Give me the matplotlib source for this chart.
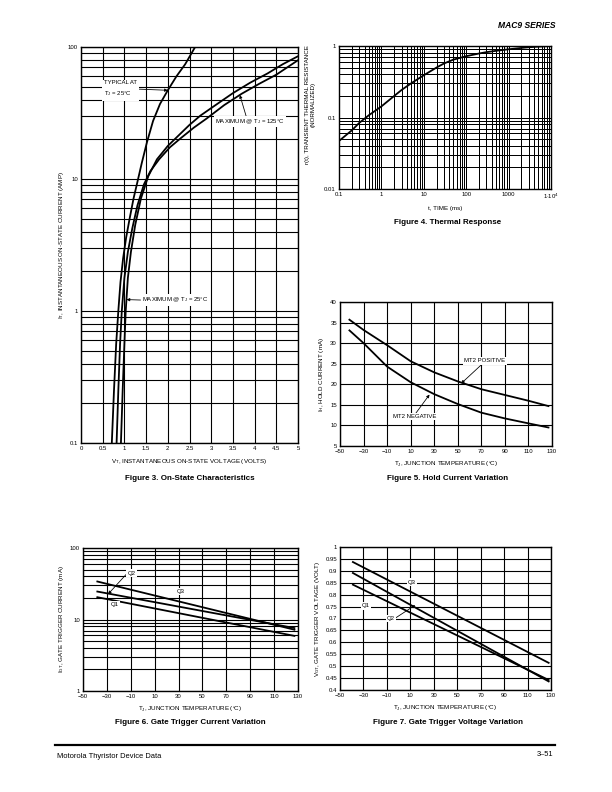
import matplotlib
matplotlib.use('Agg')
import matplotlib.pyplot as plt
import numpy as np
from matplotlib.ticker import FixedLocator, NullFormatter, LogLocator, FixedFormatter

plt.rcParams['font.family'] = ['Liberation Sans', 'DejaVu Sans']
plt.rcParams['mathtext.fontset'] = 'custom'
plt.rcParams['mathtext.rm'] = 'Liberation Sans'
plt.rcParams['mathtext.it'] = 'Liberation Sans'

# ---------------- data ----------------
# Figure 3: on-state characteristics (V in volts, I in amps)
typ25_V = [0.71, 0.76, 0.81, 0.86, 0.91, 0.97, 1.04, 1.12, 1.21, 1.30, 1.40, 1.52, 1.66, 1.82,
           2.00, 2.20, 2.40, 2.63]
typ25_I = [0.1, 0.25, 0.56, 1.0, 1.66, 2.5, 3.6, 5.0, 7.1, 9.5, 13.2, 19.0, 27.5, 37.0,
           47.0, 60.0, 74.0, 100.0]
max25_V = [0.92, 0.96, 1.00, 1.03, 1.08, 1.15, 1.25, 1.38, 1.55, 1.75, 2.00, 2.25, 2.50, 2.75,
           3.10, 3.50, 3.90, 4.30, 4.65, 5.00]
max25_I = [0.1, 0.25, 0.56, 1.0, 1.78, 2.8, 4.5, 7.1, 10.5, 14.1, 17.8, 21.4, 25.7, 30.2,
           36.3, 44.7, 53.7, 63.1, 74.1, 85.1]
max125_V = [0.82, 0.86, 0.90, 0.94, 1.00, 1.08, 1.18, 1.30, 1.45, 1.60, 1.80, 2.05, 2.30, 2.60,
            2.90, 3.30, 3.70, 4.10, 4.50, 5.00]
max125_I = [0.1, 0.25, 0.56, 1.0, 1.78, 2.8, 4.2, 6.3, 9.1, 11.5, 14.1, 17.4, 20.4, 24.5,
            28.8, 36.3, 44.2, 52.5, 61.7, 79.4]
fig3_xticks = ['0', '0.5', '1', '1.5', '2', '2.5', '3', '3.5', '4', '4.5', '5']

# Figure 4: thermal response
therm_t = [0.1, 0.2, 0.3, 0.5, 1, 2, 3, 5, 10, 20, 30, 50, 100, 200, 300, 500, 1000, 2000,
           3000, 5000, 10000]
therm_r = [0.047, 0.066, 0.084, 0.107, 0.143, 0.20, 0.243, 0.30, 0.39, 0.50, 0.57, 0.645,
           0.72, 0.785, 0.82, 0.855, 0.90, 0.94, 0.96, 0.98, 1.0]
fig4_xticks = ['0.1', '1', '10', '100', '1000', r'1$\cdot$10$^\mathregular{4}$']

# Figure 5: hold current
hold_T = [-42, -30, -10, 10, 30, 50, 70, 90, 110, 127]
hold_pos = [35.7, 33.2, 29.5, 25.6, 22.9, 20.7, 18.8, 17.4, 16.0, 14.7]
hold_neg = [33.1, 30.0, 24.3, 20.5, 17.6, 15.2, 13.1, 11.7, 10.5, 9.5]

# Figure 6: gate trigger current (straight lines on log scale)
igt_T = [-38, 127]
igt_q1 = [20.5, 5.9]
igt_q2 = [24.6, 7.6]
igt_q3 = [34.0, 7.2]

# Figure 7: gate trigger voltage
vgt_T = [-39, 128]
vgt_q1 = [0.842, 0.442]
vgt_q2 = [0.891, 0.436]
vgt_q3 = [0.937, 0.514]

temp_ticks = [-50, -30, -10, 10, 30, 50, 70, 90, 110, 130]
temp_labels = ['\u221250', '\u221230', '\u221210', '10', '30', '50', '70', '90', '110', '130']

W, H = 612, 792
fig = plt.figure(figsize=(W / 72, H / 72), dpi=72)

TICK_FS = 6
LAB_FS = 6.3
CAP_FS = 8
ANN_FS = 6
GRID_LW = 1.1
CURVE_LW = 1.8


def make_ax(l, t, r, b):
    ax = fig.add_axes([l / W, 1 - b / H, (r - l) / W, (b - t) / H])
    for s in ax.spines.values():
        s.set_linewidth(1.4)
    ax.tick_params(which='both', length=0, labelsize=TICK_FS, pad=3)
    ax.set_axisbelow(True)
    return ax


def caption(x, y, s):
    fig.text(x / W, 1 - y / H, s, ha='center', va='center', fontsize=CAP_FS, fontweight='bold')


box = dict(boxstyle='square,pad=0.2', fc='white', ec='none')
arr = dict(arrowstyle='-|>', lw=0.8, color='black', shrinkA=0, shrinkB=0, mutation_scale=6)
TJ = r'T$_\mathregular{J}$, JUNCTION TEMPERATURE ($^\mathregular{\circ}$C)'

# ---------------- Figure 3 ----------------
ax3 = make_ax(81, 47, 298, 443)
ax3.set_xlim(0, 5)
ax3.set_yscale('log')
ax3.set_ylim(0.1, 100)
ax3.xaxis.set_major_locator(FixedLocator(np.arange(0, 5.01, 0.5)))
ax3.xaxis.set_major_formatter(FixedFormatter(fig3_xticks))
ax3.yaxis.set_major_locator(FixedLocator([0.1, 1, 10, 100]))
ax3.yaxis.set_major_formatter(FixedFormatter(['0.1', '1', '10', '100']))
ax3.yaxis.set_minor_locator(LogLocator(base=10, subs=range(2, 10)))
ax3.yaxis.set_minor_formatter(NullFormatter())
ax3.grid(True, which='major', color='black', lw=GRID_LW)
ax3.grid(True, which='minor', axis='y', color='black', lw=GRID_LW)
ax3.plot(typ25_V, typ25_I, color='black', lw=CURVE_LW)
ax3.plot(max25_V, max25_I, color='black', lw=CURVE_LW)
ax3.plot(max125_V, max125_I, color='black', lw=CURVE_LW)
ax3.set_xlabel(r'V$_\mathregular{T}$, INSTANTANEOUS ON-STATE VOLTAGE (VOLTS)', fontsize=LAB_FS, labelpad=6)
ax3.set_ylabel(r'I$_\mathregular{T}$, INSTANTANEOUS ON-STATE CURRENT (AMP)', fontsize=LAB_FS, labelpad=2)
ax3.annotate('TYPICAL AT\nT$_\\mathregular{J}$ = 25\u00b0C', xy=(2.0, 47), xytext=(0.53, 48),
             fontsize=ANN_FS, ha='left', va='center', linespacing=1.8,
             bbox=dict(boxstyle='square,pad=0.35', fc='white', ec='none'),
             arrowprops=dict(arr, relpos=(1, 0.5)))
ax3.annotate('MAXIMUM @ T$_\\mathregular{J}$ = 125\u00b0C', xy=(3.66, 43.3), xytext=(3.09, 27.2),
             fontsize=ANN_FS, ha='left', va='center', bbox=box,
             arrowprops=dict(arr, relpos=(0.45, 1)))
ax3.annotate('MAXIMUM @ T$_\\mathregular{J}$ = 25\u00b0C', xy=(1.05, 1.22), xytext=(1.40, 1.21),
             fontsize=ANN_FS, ha='left', va='center', bbox=box,
             arrowprops=dict(arr, relpos=(0, 0.5)))
caption(190, 479, 'Figure 3. On-State Characteristics')

# ---------------- Figure 4 ----------------
ax4 = make_ax(339, 46, 551, 189)
ax4.set_xscale('log')
ax4.set_yscale('log')
ax4.set_xlim(0.1, 1e4)
ax4.set_ylim(0.01, 1)
ax4.xaxis.set_major_locator(FixedLocator([0.1, 1, 10, 100, 1000, 10000]))
ax4.xaxis.set_major_formatter(FixedFormatter(fig4_xticks))
ax4.xaxis.set_minor_locator(LogLocator(base=10, subs=range(2, 10)))
ax4.xaxis.set_minor_formatter(NullFormatter())
ax4.yaxis.set_major_locator(FixedLocator([0.01, 0.1, 1]))
ax4.yaxis.set_major_formatter(FixedFormatter(['0.01', '0.1', '1']))
ax4.yaxis.set_minor_locator(LogLocator(base=10, subs=range(2, 10)))
ax4.yaxis.set_minor_formatter(NullFormatter())
ax4.grid(True, which='both', color='black', lw=1.0)
ax4.plot(therm_t, therm_r, color='black', lw=CURVE_LW)
ax4.set_xlabel('t, TIME (ms)', fontsize=LAB_FS, labelpad=5)
ax4.set_ylabel('r(t), TRANSIENT THERMAL RESISTANCE\n(NORMALIZED)', fontsize=LAB_FS, linespacing=1.4)
ax4.yaxis.set_label_coords(-0.108, 0.59)
caption(448, 222, 'Figure 4. Thermal Response')

# ---------------- Figure 5 ----------------
ax5 = make_ax(340, 302, 552, 446)
ax5.set_xlim(-50, 130)
ax5.set_ylim(5, 40)
ax5.set_xticks(temp_ticks)
ax5.set_xticklabels(temp_labels)
ax5.set_yticks(range(5, 41, 5))
ax5.grid(True, color='black', lw=GRID_LW)
ax5.plot(hold_T, hold_pos, color='black', lw=CURVE_LW)
ax5.plot(hold_T, hold_neg, color='black', lw=CURVE_LW)
ax5.set_xlabel(TJ, fontsize=LAB_FS, labelpad=6)
ax5.set_ylabel(r'I$_\mathregular{H}$, HOLD CURRENT (mA)', fontsize=LAB_FS, labelpad=4)
ax5.annotate('MT2 POSITIVE', xy=(52.9, 20.2), xytext=(73.1, 25.7), fontsize=ANN_FS,
             ha='center', va='center', bbox=box, arrowprops=dict(arr, relpos=(0.45, 0)))
ax5.annotate('MT2 NEGATIVE', xy=(26, 17.5), xytext=(13.7, 12.1), fontsize=ANN_FS,
             ha='center', va='center', bbox=box, arrowprops=dict(arr, relpos=(0.5, 1)))
caption(448, 479, 'Figure 5. Hold Current Variation')

# ---------------- Figure 6 ----------------
ax6 = make_ax(83, 548, 298, 691)
ax6.set_xlim(-50, 130)
ax6.set_yscale('log')
ax6.set_ylim(1, 100)
ax6.set_xticks(temp_ticks)
ax6.set_xticklabels(temp_labels)
ax6.yaxis.set_major_locator(FixedLocator([1, 10, 100]))
ax6.yaxis.set_major_formatter(FixedFormatter(['1', '10', '100']))
ax6.yaxis.set_minor_locator(LogLocator(base=10, subs=range(2, 10)))
ax6.yaxis.set_minor_formatter(NullFormatter())
ax6.grid(True, which='major', color='black', lw=GRID_LW)
ax6.grid(True, which='minor', axis='y', color='black', lw=GRID_LW)
ax6.plot(igt_T, igt_q1, color='black', lw=CURVE_LW)
ax6.plot(igt_T, igt_q2, color='black', lw=CURVE_LW)
ax6.plot(igt_T, igt_q3, color='black', lw=CURVE_LW)
ax6.set_xlabel(TJ, fontsize=LAB_FS, labelpad=6)
ax6.set_ylabel(r'I$_\mathregular{GT}$, GATE TRIGGER CURRENT (mA)', fontsize=LAB_FS, labelpad=4)
ax6.annotate('Q2', xy=(-29, 22.6), xytext=(-9.5, 44.6), fontsize=ANN_FS, ha='center', va='center',
             bbox=box, arrowprops=dict(arr, relpos=(0, 0.5)))
ax6.text(31.8, 24.5, 'Q3', fontsize=ANN_FS, ha='center', va='center', bbox=box)
ax6.text(-23.2, 16.0, 'Q1', fontsize=ANN_FS, ha='center', va='center', bbox=box)
caption(190, 723, 'Figure 6. Gate Trigger Current Variation')

# ---------------- Figure 7 ----------------
ax7 = make_ax(340, 547, 551, 690)
ax7.set_xlim(-50, 130)
ax7.set_ylim(0.4, 1.0)
ax7.set_xticks(temp_ticks)
ax7.set_xticklabels(temp_labels)
vt = np.round(np.arange(0.4, 1.001, 0.05), 2)
ax7.set_yticks(vt)
ax7.set_yticklabels(['0.4', '0.45', '0.5', '0.55', '0.6', '0.65', '0.7', '0.75', '0.8',
                     '0.85', '0.9', '0.95', '1'])
ax7.grid(True, color='black', lw=GRID_LW)
ax7.plot(vgt_T, vgt_q1, color='black', lw=CURVE_LW)
ax7.plot(vgt_T, vgt_q2, color='black', lw=CURVE_LW)
ax7.plot(vgt_T, vgt_q3, color='black', lw=CURVE_LW)
ax7.set_xlabel(TJ, fontsize=LAB_FS, labelpad=6)
ax7.set_ylabel(r'V$_\mathregular{GT}$, GATE TRIGGER VOLTAGE (VOLT)', fontsize=LAB_FS, labelpad=3)
ax7.text(11.3, 0.853, 'Q3', fontsize=ANN_FS, ha='center', va='center', bbox=box)
ax7.text(-28.0, 0.753, 'Q1', fontsize=ANN_FS, ha='center', va='center', bbox=box)
ax7.annotate('Q2', xy=(14.1, 0.756), xytext=(-6.7, 0.700), fontsize=ANN_FS, ha='center', va='center',
             bbox=box, arrowprops=dict(arr, relpos=(1, 0.5)))
caption(448, 723, 'Figure 7. Gate Trigger Voltage Variation')

# ---------------- header / footer ----------------
fig.text(555 / W, 1 - 25 / H, 'MAC9 SERIES', ha='right', va='center', fontsize=8.5,
         fontweight='heavy', fontstyle='italic')
fig.add_artist(plt.Line2D([55 / W, 555 / W], [1 - 745 / H, 1 - 745 / H], color='black', lw=2.2))
fig.text(57 / W, 1 - 756 / H, 'Motorola Thyristor Device Data', ha='left', va='center', fontsize=7.5)
fig.text(553 / W, 1 - 755 / H, '3\u201351', ha='right', va='center', fontsize=7.5)

fig.savefig('out.png', dpi=72)
